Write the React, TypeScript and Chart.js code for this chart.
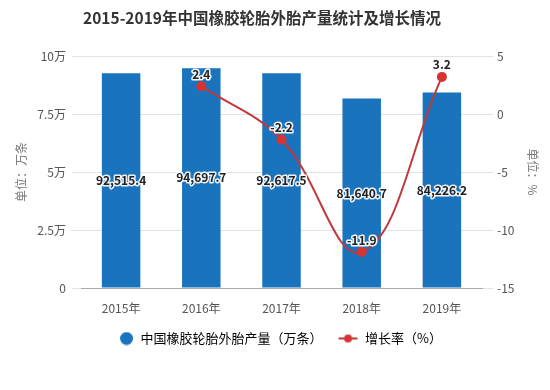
import React, { useEffect, useRef } from "react";
import { Chart, registerables } from "chart.js";

Chart.register(...registerables);

const categories = ["2015年", "2016年", "2017年", "2018年", "2019年"];
const output = [92515.4, 94697.7, 92617.5, 81640.7, 84226.2];
const growth: (number | null)[] = [null, 2.4, -2.2, -11.9, 3.2];
const leftTicks = [0, 25000, 50000, 75000, 100000];
const rightTicks = [-15, -10, -5, 0, 5];
const titleText = "2015-2019年中国橡胶轮胎外胎产量统计及增长情况";
const barLabel = "中国橡胶轮胎外胎产量（万条）";
const lineLabel = "增长率（%）";

const FONT = "'Noto Sans CJK SC', 'Noto Sans', sans-serif";
const BLUE = "#1a73bd";
const RED = "#d63333";
const LINE_RED = "#c0393b";

function fmt(v: number) {
  return v.toLocaleString("en-US", { minimumFractionDigits: 1, maximumFractionDigits: 1 });
}

export default function App() {
  const ref = useRef<HTMLCanvasElement | null>(null);
  useEffect(() => {
    document.body.style.margin = "0";
    const canvas = ref.current!;

    const circleImg = document.createElement("canvas");
    circleImg.width = 22;
    circleImg.height = 14;
    {
      const c = circleImg.getContext("2d")!;
      c.fillStyle = BLUE;
      c.beginPath();
      c.arc(14.5, 7, 6.5, 0, Math.PI * 2);
      c.fill();
    }
    const lineImg = document.createElement("canvas");
    lineImg.width = 22;
    lineImg.height = 14;
    {
      const c = lineImg.getContext("2d")!;
      c.strokeStyle = LINE_RED;
      c.lineWidth = 2;
      c.beginPath();
      c.moveTo(2, 7);
      c.lineTo(21, 7);
      c.stroke();
      c.fillStyle = RED;
      c.beginPath();
      c.arc(11.5, 7, 4, 0, Math.PI * 2);
      c.fill();
    }

    const labelsPlugin = {
      id: "valueLabels",
      afterDatasetsDraw(chart: any) {
        const ctx = chart.ctx;
        ctx.save();
        ctx.textAlign = "center";
        ctx.textBaseline = "middle";
        ctx.lineJoin = "round";
        const barMeta = chart.getDatasetMeta(0);
        barMeta.data.forEach((el: any, i: number) => {
          const y = (el.y + el.base) / 2;
          ctx.font = `bold 12px ${FONT}`;
          ctx.strokeStyle = "rgba(255,255,255,0.9)";
          ctx.lineWidth = 3;
          ctx.strokeText(fmt(output[i]), el.x, y);
          ctx.fillStyle = "#222";
          ctx.fillText(fmt(output[i]), el.x, y);
        });
        const lineMeta = chart.getDatasetMeta(1);
        lineMeta.data.forEach((el: any, i: number) => {
          const v = growth[i];
          if (v === null) return;
          const y = el.y - 12;
          ctx.font = `bold 12px ${FONT}`;
          ctx.strokeStyle = "rgba(255,255,255,0.95)";
          ctx.lineWidth = 3;
          ctx.strokeText(String(v), el.x, y);
          ctx.fillStyle = "#222";
          ctx.fillText(String(v), el.x, y);
        });
        ctx.restore();
      },
    };

    const titlePlugin = {
      id: "customTitle",
      afterDraw(chart: any) {
        const ctx = chart.ctx;
        ctx.save();
        ctx.font = `bold 15.5px ${FONT}`;
        ctx.fillStyle = "#333";
        ctx.textAlign = "center";
        ctx.textBaseline = "middle";
        ctx.fillText(titleText, 262, 18);
        ctx.restore();
      },
    };

    const chart = new Chart(canvas, {
      data: {
        labels: categories,
        datasets: [
          {
            type: "bar",
            label: barLabel,
            data: output,
            backgroundColor: BLUE,
            yAxisID: "y",
            barPercentage: 0.48,
            categoryPercentage: 1,
            order: 2,
          },
          {
            type: "line",
            label: lineLabel,
            data: growth,
            borderColor: LINE_RED,
            backgroundColor: RED,
            pointBackgroundColor: RED,
            pointBorderColor: RED,
            pointRadius: 4,
            borderWidth: 2,
            tension: 0.4,
            yAxisID: "y1",
            order: 1,
          } as any,
        ],
      },
      options: {
        responsive: false,
        animation: false,
        layout: { padding: { left: 12, right: 8, top: 56, bottom: 35 } },
        plugins: {
          title: { display: false },
          tooltip: { enabled: false },
          legend: {
            position: "bottom",
            labels: {
              usePointStyle: true,
              pointStyleWidth: 22,
              boxHeight: 13,
              padding: 14,
              color: "#333",
              font: { family: FONT, size: 13 },
              generateLabels() {
                return [
                  { text: barLabel, pointStyle: circleImg, fillStyle: BLUE, strokeStyle: BLUE, lineWidth: 0, datasetIndex: 0, hidden: false },
                  { text: lineLabel, pointStyle: lineImg, fillStyle: RED, strokeStyle: RED, lineWidth: 0, datasetIndex: 1, hidden: false },
                ] as any;
              },
            },
          },
        },
        scales: {
          x: {
            grid: { display: false },
            border: { display: true, color: "#aaa" },
            ticks: { color: "#555", font: { family: FONT, size: 12 }, padding: 5 },
            afterFit(scale: any) {
              scale.height = 30;
            },
          },
          y: {
            position: "left",
            min: 0,
            max: 100000,
            afterBuildTicks(scale: any) {
              scale.ticks = leftTicks.map((v) => ({ value: v }));
            },
            grid: { color: "#e2e2e2", tickLength: 9, tickColor: "#e2e2e2" },
            border: { display: false },
            ticks: {
              color: "#555",
              padding: 6,
              font: { family: FONT, size: 12 },
              callback: (v: any) => (v === 0 ? "0" : `${v / 10000}万`),
            },
            title: { display: true, text: "单位：万条", color: "#777", font: { family: FONT, size: 12 }, padding: 2 },
            afterFit(scale: any) {
              scale.width = 69;
            },
          },
          y1: {
            position: "right",
            min: -15,
            max: 5,
            afterBuildTicks(scale: any) {
              scale.ticks = rightTicks.map((v) => ({ value: v }));
            },
            grid: { drawOnChartArea: false, tickLength: 11, color: "#e2e2e2", tickColor: "#e2e2e2" },
            border: { display: false },
            ticks: { color: "#555", padding: 4, font: { family: FONT, size: 12 } },
            title: { display: true, text: "单位：%", color: "#777", font: { family: FONT, size: 12 }, padding: 2 },
            afterFit(scale: any) {
              scale.width = 60;
            },
          },
        },
      },
      plugins: [labelsPlugin, titlePlugin],
    } as any);
    return () => chart.destroy();
  }, []);
  return <canvas ref={ref} width={550} height={390} />;
}
